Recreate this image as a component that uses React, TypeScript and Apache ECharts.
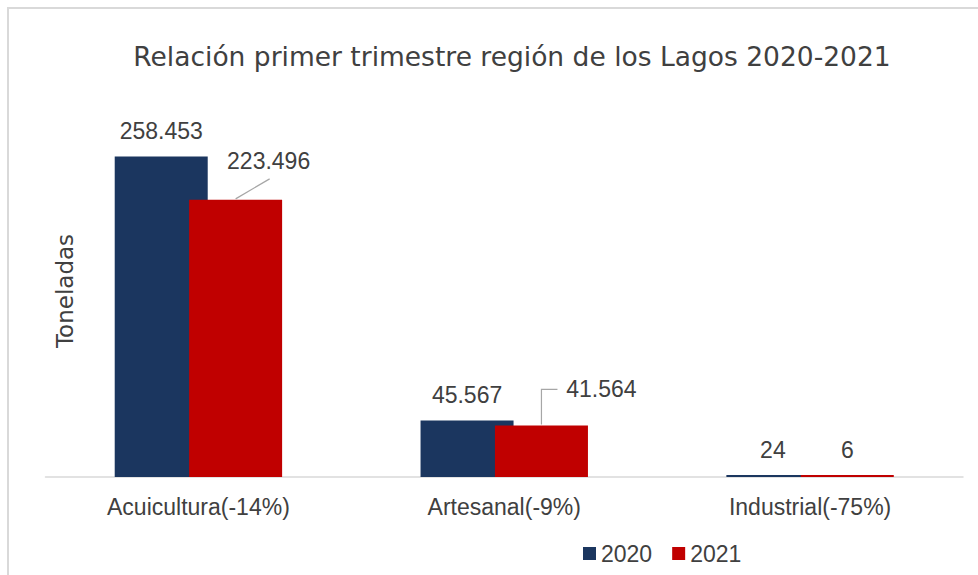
import React, { useEffect, useRef } from "react";
import * as echarts from "echarts";

const titleText = "Relación primer trimestre región de los Lagos 2020-2021";
const yAxisName = "Toneladas";
const categories = ["Acuicultura(-14%)", "Artesanal(-9%)", "Industrial(-75%)"];
const seriesNames = ["2020", "2021"];
const values2020 = [258453, 45567, 24];
const values2021 = [223496, 41564, 6];
const colors = ["#1B365F", "#C00000"];

const FONT = "'Liberation Sans', Arial, sans-serif";
const FONT_WIDE = "'DejaVu Sans', Verdana, sans-serif";
const TEXT = "#404040";
const BAR_W = 93;
const BAR_GAP = -0.2;

const fmt = (v: number) => String(v).replace(/\B(?=(\d{3})+(?!\d))/g, ".");

export default function App() {
  const ref = useRef<HTMLDivElement>(null);
  useEffect(() => {
    if (!ref.current) return;
    const chart = echarts.init(ref.current, null, { renderer: "svg" });
    const redCenterOffset = -(BAR_W * 2 + BAR_W * BAR_GAP) / 2 + BAR_W + BAR_W * BAR_GAP + BAR_W / 2;
    const leaderData = [
      [0, values2021[0], 0],
      [1, values2021[1], 1],
    ];
    chart.setOption({
      animation: false,
      textStyle: { fontFamily: FONT },
      graphic: [
        {
          type: "text",
          x: 512,
          y: 56,
          style: {
            text: titleText,
            fontSize: 26.5,
            fontFamily: FONT_WIDE,
            fill: TEXT,
            align: "center",
            verticalAlign: "middle",
          },
        },
      ],
      legend: {
        data: seriesNames,
        left: 578,
        top: 537,
        icon: "rect",
        itemWidth: 13,
        itemHeight: 13,
        itemGap: 20,
        textStyle: { fontSize: 23, color: TEXT, fontFamily: FONT },
      },
      grid: { left: 45.5, right: 15, top: 105, bottom: 98 },
      xAxis: {
        type: "category",
        data: categories,
        axisLine: { lineStyle: { color: "#D9D9D9", width: 1.5 } },
        axisTick: { show: false },
        axisLabel: { fontSize: 23, color: TEXT, margin: 18, fontFamily: FONT },
      },
      yAxis: {
        type: "value",
        min: 0,
        max: 300000,
        axisLine: { show: false },
        axisTick: { show: false },
        axisLabel: { show: false },
        splitLine: { show: false },
        name: yAxisName,
        nameLocation: "middle",
        nameRotate: 90,
        nameGap: -31,
        nameTextStyle: { fontSize: 23, color: TEXT, fontFamily: FONT_WIDE },
      },
      series: [
        {
          name: seriesNames[0],
          type: "bar",
          data: values2020,
          barWidth: BAR_W,
          barGap: `${BAR_GAP * 100}%`,
          barMinHeight: 2,
          itemStyle: { color: colors[0] },
          label: {
            show: true,
            position: "top",
            distance: 14,
            fontSize: 23,
            color: TEXT,
            fontFamily: FONT,
            formatter: (p: any) => fmt(p.value),
          },
        },
        {
          name: seriesNames[1],
          type: "bar",
          data: values2021.map((v, i) => {
            if (i === 0) return { value: v, label: { offset: [33, -13.5] } };
            if (i === 1) return { value: v, label: { offset: [60, -10.5] } };
            return v;
          }),
          barWidth: BAR_W,
          barGap: `${BAR_GAP * 100}%`,
          barMinHeight: 2,
          itemStyle: { color: colors[1] },
          label: {
            show: true,
            position: "top",
            distance: 14,
            fontSize: 23,
            color: TEXT,
            fontFamily: FONT,
            formatter: (p: any) => fmt(p.value),
          },
        },
        {
          type: "custom",
          silent: true,
          data: leaderData,
          z: 5,
          renderItem: (params: any, api: any) => {
            const p = api.coord([api.value(0), api.value(1)]);
            const x = p[0] + redCenterOffset;
            const y = p[1];
            const kind = api.value(2);
            const points =
              kind === 0
                ? [
                    [x, y - 1],
                    [x + 34, y - 21],
                  ]
                : [
                    [x, y - 1],
                    [x, y - 36],
                    [x + 16, y - 36],
                  ];
            return {
              type: "polyline",
              shape: { points },
              style: { stroke: "#A6A6A6", lineWidth: 1.2, fill: "none" },
            };
          },
        },
      ],
    });
    return () => chart.dispose();
  }, []);

  return (
    <div style={{ position: "absolute", left: 0, top: 0, width: 978, height: 575, background: "#fff" }}>
      <div ref={ref} style={{ position: "absolute", left: 0, top: 0, width: 978, height: 575 }} />
      <div
        style={{
          position: "absolute",
          left: 7,
          top: 7,
          width: 971,
          height: 568,
          boxSizing: "border-box",
          borderTop: "2px solid #D9D9D9",
          borderLeft: "2px solid #D9D9D9",
          pointerEvents: "none",
        }}
      />
    </div>
  );
}
